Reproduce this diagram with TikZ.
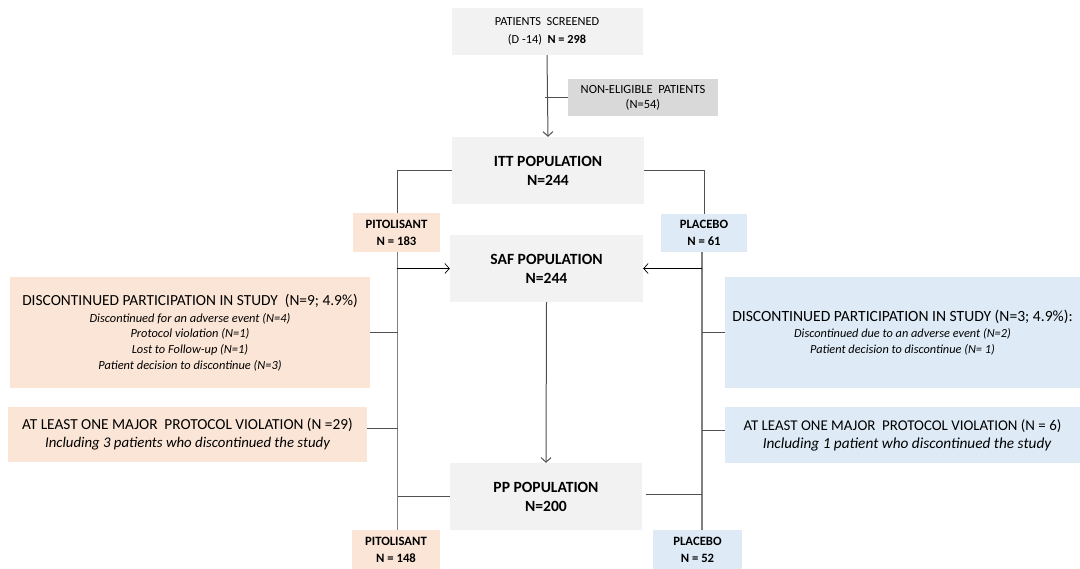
\documentclass[tikz,border=0pt]{standalone}
\usepackage{fontspec}
\setmainfont{Carlito}
\usetikzlibrary{arrows.meta,calc}
\definecolor{boxgrey}{HTML}{F2F2F2}
\definecolor{darkgrey}{HTML}{D9D9D9}
\definecolor{peach}{HTML}{FBE5D6}
\definecolor{paleblue}{HTML}{DEEBF7}
\definecolor{linegrey}{HTML}{505050}
\definecolor{trunkgrey}{HTML}{7F7F7F}
\tikzset{
  box/.style={draw=none, inner sep=0pt, align=center, text=black},
  conn/.style={draw=linegrey, line width=1pt},
  trunk/.style={draw=trunkgrey, line width=1.5pt},
  arr/.style={-{Straight Barb[length=4.5pt,width=10pt]}},
}
\begin{document}
\begin{tikzpicture}[x=1pt,y=-1pt]
\useasboundingbox (0,0) rectangle (1080,569);
% boxes
\node[box, fill=boxgrey, minimum width=191, minimum height=47,
  font=\fontsize{12.3}{18}\selectfont] (scr) at (547,31.5)
  {PATIENTS\ \ SCREENED\\(D -14)\ \ \textbf{N = 298}};
\node[box, fill=darkgrey, minimum width=150, minimum height=37,
  font=\fontsize{12.5}{15}\selectfont] (nonel) at (643,98)
  {NON-ELIGIBLE\ \ PATIENTS\\(N=54)};
\node[box, fill=boxgrey, minimum width=192, minimum height=67,
  font=\fontsize{15.6}{19}\selectfont\bfseries] (itt) at (548,170.5)
  {ITT POPULATION\\N=244};
\node[box, fill=peach, minimum width=87, minimum height=39,
  font=\fontsize{12.7}{17}\selectfont\bfseries] (pit1) at (396.5,232.5)
  {PITOLISANT\\N = 183};
\node[box, fill=paleblue, minimum width=86, minimum height=38,
  font=\fontsize{12.7}{17}\selectfont\bfseries] (plc1) at (704,233)
  {PLACEBO\\N = 61};
\node[box, fill=boxgrey, minimum width=193, minimum height=67,
  font=\fontsize{15.6}{19}\selectfont\bfseries] (saf) at (546.5,268.5)
  {SAF POPULATION\\N=244};
\node[box, fill=peach, minimum width=360, minimum height=111,
  font=\fontsize{12.4}{15.7}\selectfont] (disL) at (190,332.5)
  {{\fontsize{15.4}{15.7}\selectfont DISCONTINUED PARTICIPATION IN STUDY\ \ (N=9; 4.9\%)}\\[1.3pt]
   \itshape Discontinued for an adverse event (N=4)\\
   \itshape Protocol violation (N=1)\\
   \itshape Lost to Follow-up (N=1)\\
   \itshape Patient decision to discontinue (N=3)};
\node[box, fill=peach, minimum width=359, minimum height=55,
  font=\fontsize{15.3}{18}\selectfont] (protL) at (187.5,434.5)
  {AT LEAST ONE MAJOR\ \ PROTOCOL VIOLATION (N =29)\\
   {\fontsize{14.8}{18}\selectfont\itshape Including 3 patients\ who discontinued the study}};
\node[box, fill=paleblue, minimum width=355, minimum height=111,
  font=\fontsize{12.3}{15.7}\selectfont] (disR) at (902.5,332.5)
  {{\fontsize{15.6}{15.7}\selectfont DISCONTINUED PARTICIPATION IN STUDY (N=3; 4.9\%):}\\[0.3pt]
   \itshape Discontinued due to an adverse event (N=2)\\
   \itshape Patient decision to discontinue (N= 1)};
\node[box, fill=paleblue, minimum width=355, minimum height=56,
  font=\fontsize{14.9}{18}\selectfont] (protR) at (902.5,435)
  {AT LEAST ONE MAJOR\ \ PROTOCOL VIOLATION (N = 6)\\
   {\fontsize{15.3}{18}\selectfont\itshape \hspace*{9pt}Including 1 patient who discontinued the study}};
\node[box, fill=boxgrey, minimum width=192, minimum height=67,
  font=\fontsize{15.6}{19}\selectfont\bfseries] (pp) at (546,496.5)
  {PP POPULATION\\N=200};
\node[box, fill=peach, minimum width=88, minimum height=39,
  font=\fontsize{12.7}{17}\selectfont\bfseries] (pit2) at (396,549.5)
  {PITOLISANT\\N = 148};
\node[box, fill=paleblue, minimum width=89, minimum height=39,
  font=\fontsize{12.7}{17}\selectfont\bfseries] (plc2) at (697.5,549.5)
  {PLACEBO\\N = 52};
% trunk coordinates
\coordinate (ltop) at ([xshift=1]pit1.south);
\coordinate (rtop) at ([xshift=-2]plc1.south);
% connectors
\draw[conn, arr] (scr.south) -- (itt.north);
\draw[conn] (nonel.west) -- ([xshift=-2]nonel.west -| scr.south);
\draw[conn] (itt.west) -| (ltop |- itt.west) -- (ltop |- pit1.north);
\draw[conn] (itt.east) -| (plc1.north);
\draw[trunk] (ltop) -- (ltop |- pit2.north);
\draw[trunk] (rtop) -- (rtop |- plc2.north);
\draw[arr, line width=0.7pt, black] ([xshift=-1]saf.west -| ltop) -- (saf.west);
\draw[arr, line width=0.7pt, black] (saf.east -| rtop) -- (saf.east);
\draw[conn] (disL.east) -- (disL.east -| ltop);
\draw[conn] ([yshift=6]protL.east) -- ([yshift=6]protL.east -| ltop);
\draw[conn] (disR.west) -- (disR.west -| rtop);
\draw[conn] ([yshift=4]protR.west) -- ([yshift=4]protR.west -| rtop);
\draw[conn, arr] (saf.south) -- (pp.north);
\draw[conn] (pp.west) -- (pp.west -| ltop);
\draw[conn] ([yshift=2,xshift=4]pp.east) -- ([yshift=2]pp.east -| rtop);
\end{tikzpicture}
\end{document}
